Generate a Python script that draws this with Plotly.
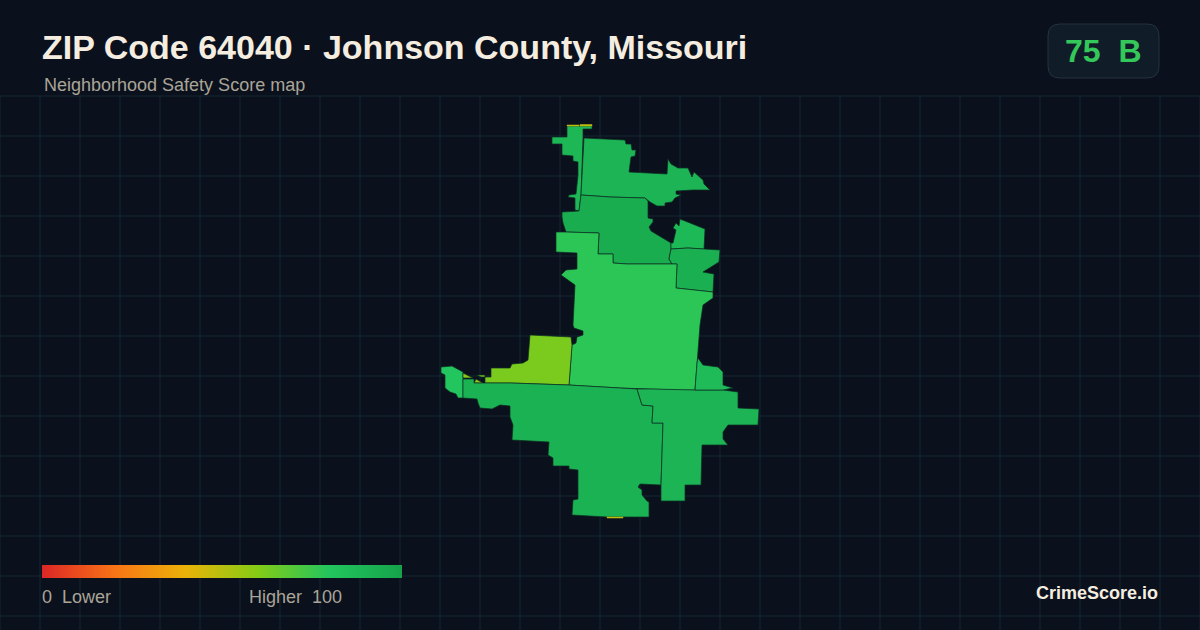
import numpy as np
import plotly.graph_objects as go
from plotly.colors import sample_colorscale

# Colors
BG = "#0a111c"
GRID = "#152632"
SCALE = [
    [0.0, "#dc2626"], [0.2, "#f97316"], [0.4, "#eab308"],
    [0.6, "#84cc16"], [0.8, "#22c55e"], [1.0, "#16a34a"],
]

# Block group outlines, in picture units, and their scores
west_x = [441, 452, 463, 463, 458, 456, 450, 445, 445, 441]
west_y = [367, 366, 372, 398, 398, 394, 392, 388, 375, 373]
west_score = 80

nw_sliver_x = [567, 592, 592, 583, 583, 581, 579, 575, 575, 568, 569, 576, 578, 578, 573, 573, 562, 562, 552, 552, 567]
nw_sliver_y = [126, 126, 129, 129, 138, 195, 211, 210, 198, 197, 195, 194, 175, 162, 161, 156, 155, 144, 144, 137, 137]
nw_sliver_score = 88

north_x = [584, 615, 625, 626, 631, 632, 636, 635, 631, 629, 657, 667, 668, 670, 671, 678, 688, 692, 694, 703, 704, 710, 693, 676, 676, 681, 675, 672, 665, 665, 657, 650, 645, 610, 581]
north_y = [138, 139, 140, 144, 144, 150, 150, 156, 157, 172, 174, 174, 159, 162, 164, 168, 168, 177, 172, 180, 184, 190, 190, 191, 194, 195, 198, 202, 203, 206, 206, 202, 198, 197, 195]
north_score = 90

upper_x = [562, 579, 581, 610, 645, 648, 648, 653, 653, 649, 651, 663, 671, 671, 669, 672, 627, 613, 613, 598, 599, 566, 563, 562]
upper_y = [212, 211, 195, 197, 198, 201, 218, 219, 222, 227, 231, 238, 243, 249, 259, 264, 264, 263, 254, 254, 233, 232, 223, 217]
upper_score = 94

ne_x = [680, 705, 704, 688, 671, 671, 673, 676, 673, 676, 679]
ne_y = [219, 229, 249, 248, 249, 243, 243, 230, 228, 223, 226]
ne_score = 87

east_x = [671, 688, 720, 719, 703, 714, 713, 676, 677, 672, 669]
east_y = [249, 248, 250, 262, 272, 274, 292, 288, 264, 264, 259]
east_score = 93

center_x = [556, 566, 599, 598, 613, 613, 627, 677, 676, 713, 713, 703, 700, 697, 695, 677, 620, 585, 569, 572, 576, 577, 583, 583, 574, 573, 575, 561, 566, 577, 577, 556]
center_y = [232, 232, 233, 254, 254, 263, 264, 264, 288, 292, 298, 305, 325, 363, 390, 390, 388, 386, 385, 345, 343, 337, 335, 331, 328, 325, 285, 275, 270, 269, 253, 252]
center_score = 78

lime_x = [530, 571, 572, 569, 511, 485, 485, 491, 491, 510, 512, 523, 528]
lime_y = [335, 337, 345, 385, 383, 383, 377, 377, 368, 368, 364, 363, 360]
lime_score = 62

tip_x = [463, 473, 463]
tip_y = [373, 378, 378]
tip_score = 58

tip2_x = [474, 476, 483]
tip2_y = [383, 379, 383]
tip2_score = 58

tip3_x = [477, 485, 485, 481]
tip3_y = [375, 375, 377, 377]
tip3_score = 62

south_x = [463, 474, 474, 511, 569, 585, 620, 637, 642, 653, 652, 663, 661, 640, 638, 642, 642, 647, 649, 649, 607, 572, 573, 578, 578, 569, 569, 553, 553, 548, 549, 512, 513, 510, 510, 500, 492, 480, 478, 477, 463]
south_y = [379, 379, 383, 383, 385, 386, 388, 389, 405, 406, 423, 423, 485, 484, 487, 490, 495, 501, 502, 517, 517, 515, 500, 499, 470, 469, 466, 466, 458, 455, 442, 440, 425, 417, 406, 405, 409, 408, 403, 399, 398]
south_score = 91

se_x = [637, 653, 695, 723, 738, 738, 759, 758, 728, 723, 723, 728, 702, 701, 685, 685, 661, 661, 663, 652, 653, 642]
se_y = [389, 389, 390, 390, 392, 408, 409, 425, 425, 432, 439, 445, 445, 485, 485, 501, 501, 485, 423, 423, 406, 405]
se_score = 90

small_east_x = [698, 703, 718, 723, 723, 733, 723, 695, 697]
small_east_y = [358, 365, 367, 372, 385, 388, 390, 390, 363]
small_east_score = 86

top_sliver_x = [567, 579, 579, 567]
top_sliver_y = [125, 125, 126, 126]
top_sliver2_x = [580, 592, 592, 580]
top_sliver2_y = [124.5, 124.5, 126, 126]
bottom_sliver_x = [607, 623, 623, 607]
bottom_sliver_y = [517, 517, 518, 518]
sliver_score = 48

regions = [
    (west_x, west_y, west_score),
    (nw_sliver_x, nw_sliver_y, nw_sliver_score),
    (north_x, north_y, north_score),
    (upper_x, upper_y, upper_score),
    (ne_x, ne_y, ne_score),
    (east_x, east_y, east_score),
    (center_x, center_y, center_score),
    (lime_x, lime_y, lime_score),
    (tip_x, tip_y, tip_score),
    (tip2_x, tip2_y, tip2_score),
    (tip3_x, tip3_y, tip3_score),
    (south_x, south_y, south_score),
    (se_x, se_y, se_score),
    (small_east_x, small_east_y, small_east_score),
]
slivers = [
    (top_sliver_x, top_sliver_y, sliver_score),
    (top_sliver2_x, top_sliver2_y, sliver_score),
    (bottom_sliver_x, bottom_sliver_y, sliver_score),
]

# Text
title = "ZIP Code 64040 · Johnson County, Missouri"
subtitle = "Neighborhood Safety Score map"
score_text = "75\u00a0\u00a0B"
low_text = "0\u00a0\u00a0Lower"
high_text = "Higher\u00a0\u00a0100"
brand = "CrimeScore.io"


def score_color(score):
    return sample_colorscale(SCALE, score / 100)[0]


fig = go.Figure()

# Background grid
grid_xs = np.arange(0, 1201, 40)
grid_ys = np.arange(96, 617, 40)
line_x, line_y = [], []
for gx in grid_xs:
    line_x += [gx, gx, None]
    line_y += [96, 630, None]
for gy in grid_ys:
    line_x += [0, 1200, None]
    line_y += [gy, gy, None]
fig.add_trace(go.Scatter(
    x=line_x, y=line_y, mode="lines",
    line=dict(color=GRID, width=1), hoverinfo="skip",
))

# Regions
for rx, ry, score in regions:
    fig.add_trace(go.Scatter(
        x=rx + rx[:1], y=ry + ry[:1], mode="lines", fill="toself",
        fillcolor=score_color(score),
        line=dict(color="#0d2c22", width=0.7),
        hoverinfo="skip",
    ))
for rx, ry, score in slivers:
    fig.add_trace(go.Scatter(
        x=rx + rx[:1], y=ry + ry[:1], mode="lines", fill="toself",
        fillcolor=score_color(score),
        line=dict(color=score_color(score), width=0.5),
        hoverinfo="skip",
    ))

# Score legend, from a colorbar on an empty trace
fig.add_trace(go.Scatter(
    x=[None, None], y=[None, None], mode="markers",
    marker=dict(
        color=[0, 100], cmin=0, cmax=100, colorscale=SCALE, showscale=True,
        colorbar=dict(
            orientation="h", lenmode="pixels", len=360, thickness=13,
            thicknessmode="pixels", x=42 / 1200, xanchor="left",
            y=1 - 578 / 630, yanchor="bottom", xpad=0, ypad=0,
            outlinewidth=0, showticklabels=False, ticks="",
        ),
    ),
    hoverinfo="skip",
))

# Score badge
fig.add_shape(
    type="path",
    path="M 1060 24 H 1147 Q 1159 24 1159 36 V 66 Q 1159 78 1147 78 H 1060 "
         "Q 1048 78 1048 66 V 36 Q 1048 24 1060 24 Z",
    fillcolor="#111c29", line=dict(color="#25313e", width=1), layer="above",
)


def add_text(x, y, text, size, color, bold=False, anchor="left"):
    fig.add_annotation(
        x=x, y=y, text=f"<b>{text}</b>" if bold else text, showarrow=False,
        xanchor=anchor, yanchor="middle", xshift=0,
        font=dict(family="Liberation Sans", size=size, color=color),
    )


add_text(40, 47, title, 34, "#f5ede0", bold=True)
add_text(42, 85, subtitle, 18, "#aba498")
add_text(1063, 51, score_text, 32, "#34c759", bold=True)
add_text(40, 597, low_text, 18, "#aba498")
add_text(247, 597, high_text, 18, "#aba498")
add_text(1160, 593, brand, 18, "#f5ede0", bold=True, anchor="right")

# Layout
fig.update_layout(
    width=1200, height=630, margin=dict(l=0, r=0, t=0, b=0),
    paper_bgcolor=BG, plot_bgcolor=BG, showlegend=False,
)
fig.update_xaxes(range=[0, 1200], visible=False, fixedrange=True)
fig.update_yaxes(range=[630, 0], visible=False, fixedrange=True)

# Drop the default page margin so the figure fills the window
fig.write_html(
    "out.html", config=dict(displayModeBar=False),
    post_script="document.body.style.margin = '0'; document.body.style.overflow = 'hidden';",
)
